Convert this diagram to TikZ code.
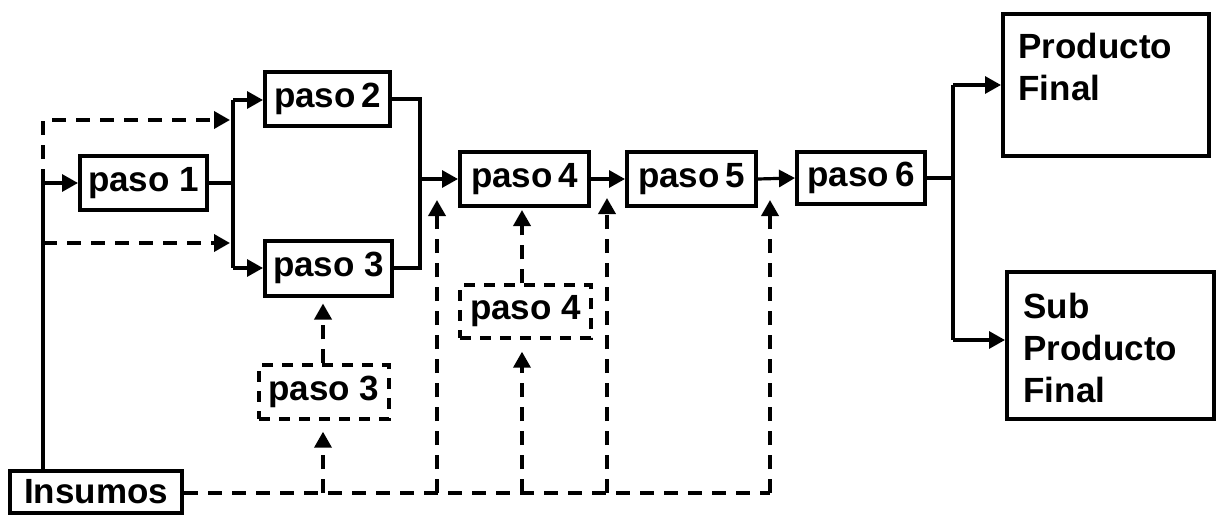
\documentclass[tikz,border=0pt]{standalone}
\usepackage{fontspec}
\setmainfont{Liberation Sans}
\usetikzlibrary{arrows.meta}
\begin{document}
\begin{tikzpicture}[x=1pt,y=-1pt,
  font=\bfseries\fontsize{35}{42}\selectfont,
  line width=3.2pt,
  tip/.style={-{Triangle[length=16pt,width=17pt]}},
  pbox/.style={draw,line width=4pt,inner sep=0pt,minimum height=54pt},
  dbox/.style={draw,line width=3.4pt,dash pattern=on 11pt off 9pt,inner sep=0pt,minimum height=54pt},
  dline/.style={dash pattern=on 14pt off 10pt,line width=3.6pt},
  obox/.style={draw,line width=4pt,inner sep=0pt,anchor=north west}]
\useasboundingbox (0,0) rectangle (1218,524);
% boxes
\node[pbox,minimum width=127pt] (p1) at (143.5,183) {paso 1};
\node[pbox,minimum width=125pt] (p2) at (327.5,99) {paso\,2};
\node[pbox,minimum width=127pt,minimum height=55pt] (p3) at (328.5,268) {paso 3};
\node[pbox,minimum width=129pt] (p4) at (524.5,179) {paso\,4};
\node[pbox,minimum width=129pt] (p5) at (691.5,179) {paso\,5};
\node[pbox,minimum width=128pt,minimum height=52pt] (p6) at (861,178) {paso\,6};
\node[dbox,minimum width=130pt] (d3) at (324,392) {paso 3};
\node[dbox,minimum width=131pt,minimum height=53pt] (d4) at (525.5,311.5) {paso 4};
\node[pbox,minimum width=172pt,minimum height=42pt] (ins) at (96,492) {Insumos};
\node[obox,minimum width=206pt,minimum height=142pt] (pf) at (1001,12) {};
\node[obox,minimum width=207pt,minimum height=147pt] (sp) at (1005,270) {};
\node[anchor=north west,align=left,inner sep=0pt] (pft) at ([xshift=16pt,yshift=-20pt]pf.north west) {Producto\\Final};
\node[anchor=north west,align=left,inner sep=0pt] (spt) at ([xshift=17pt,yshift=-22pt]sp.north west) {Sub\\Producto\\Final};
% coordinates
\coordinate (a0) at (43,471);
\coordinate (a1) at (43,183);
\coordinate (a2) at (43,120);
\coordinate (a3) at (43,243);
\coordinate (f1) at (233,183);
\coordinate (f2) at (233,100);
\coordinate (f3) at (233,268);
\coordinate (g1) at (420,99);
\coordinate (g2) at (420,268);
\coordinate (g3) at (420,179);
\coordinate (h1) at (953,178);
\coordinate (h2) at (953,85);
\coordinate (h3) at (953,340);
\coordinate (b1) at (323,493);
\coordinate (b2) at (437,493);
\coordinate (b3) at (522,493);
\coordinate (b4) at (607,493);
\coordinate (b5) at (770,493);
\coordinate (t2) at (437,200);
\coordinate (t4) at (607,198);
\coordinate (t5) at (770,200);
% solid connectors
\draw (a0) -- (a1);
\draw[tip] (a1) -- (p1.west);
\draw (p1.east) -- (f1);
\draw (f2) -- (f3);
\draw[tip] (f2) -- (p2.west |- f2);
\draw[tip] (f3) -- (p3.west |- f3);
\draw (p2.east) -- (g1) -- (g2) -- (p3.east |- g2);
\draw[tip] (g3) -- (p4.west);
\draw[tip] (p4.east) -- (p5.west);
\draw[tip] (p5.east) -- (p6.west);
\draw (p6.east) -- (h1);
\draw (h2) -- (h3);
\draw[tip] (h2) -- (pf.west |- h2);
\draw[tip] (h3) -- (sp.west |- h3);
% dashed connectors
\draw[dline,tip] (a1) -- (a2) -- (230,120);
\draw[dline,tip] (a3) -- (230,243);
\draw[dline] (ins.east |- b1) -- (b5);
\draw[dline,tip,shorten >=11pt] (b1) -- (b1 |- d3.south);
\draw[dline,tip,shorten >=6pt] (d3.north -| b1) -- (b1 |- p3.south);
\draw[dline,tip] (b2) -- (t2);
\draw[dline,tip,shorten >=12pt] (b3) -- (b3 |- d4.south);
\draw[dline,tip,shorten >=2pt] (b3 |- d4.north) -- (b3 |- p4.south);
\draw[dline,tip] (b4) -- (t4);
\draw[dline,tip] (b5) -- (t5);
\end{tikzpicture}
\end{document}
